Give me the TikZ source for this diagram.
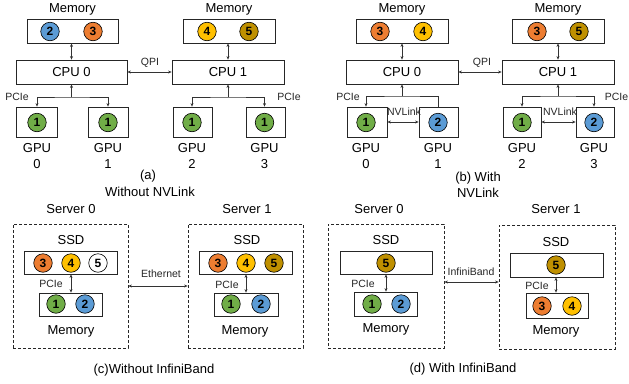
\documentclass[tikz,border=0pt]{standalone}
\usepackage{fontspec}
\setmainfont{Liberation Sans}
\usetikzlibrary{arrows.meta}
\definecolor{cblue}{HTML}{5B9BD5}
\definecolor{corange}{HTML}{ED7D31}
\definecolor{cyellow}{HTML}{FFC000}
\definecolor{cgold}{HTML}{BF9000}
\definecolor{cgreen}{HTML}{70AD47}
\begin{document}
\begin{tikzpicture}[x=1pt,y=-1pt,
 box/.style={draw=black!85, line width=0.8pt, inner sep=0pt, minimum height=24pt},
 dbox/.style={draw=black!85, line width=0.8pt, dash pattern=on 3pt off 2pt, inner sep=0pt, minimum height=124pt, minimum width=116pt},
 ball/.style={circle, draw=black, line width=0.6pt, minimum size=18.5pt, inner sep=0pt, font=\fontsize{12}{12}\selectfont\bfseries},
 lbl/.style={font=\fontsize{13}{16}\selectfont, inner sep=0pt, align=center},
 slbl/.style={font=\fontsize{10.5}{12}\selectfont, inner sep=0pt, text=black!85},
 arr/.style={line width=0.55pt, draw=black!80, >={Stealth[length=3.5pt,width=3pt]}}
]
\fill[white] (0,0) rectangle (629,383);
\useasboundingbox (0,0) rectangle (629,383);

% ================= (a) =================
\node[lbl] (mla0) at (72.5,9) {Memory};
\node[lbl] (mla1) at (229,9) {Memory};
\node[box, minimum width=91pt] (mem0a) at (72.5,31) {};
\node[box, minimum width=92pt] (mem1a) at (229,31) {};
\node[ball, fill=cblue] (a2) at (50,31.5) {2};
\node[ball, fill=corange] (a3) at (93,31.5) {3};
\node[ball, fill=cyellow] (a4) at (207,31.5) {4};
\node[ball, fill=cgold] (a5) at (249,31.5) {5};
\node[box, lbl, minimum width=111pt, minimum height=24pt] (cpu0a) at (71.5,72) {CPU 0};
\node[box, lbl, minimum width=112pt, minimum height=24pt] (cpu1a) at (228,72) {CPU 1};
\node[box, minimum width=41pt, minimum height=30pt] (gpu0a) at (36.5,122) {};
\node[box, minimum width=40pt, minimum height=30pt] (gpu1a) at (108,122) {};
\node[box, minimum width=39pt, minimum height=30pt] (gpu2a) at (192.5,122) {};
\node[box, minimum width=39pt, minimum height=30pt] (gpu3a) at (265.5,122) {};
\node[ball, fill=cgreen] (a1a) at (37,122.5) {1};
\node[ball, fill=cgreen] (a1b) at (108,122.5) {1};
\node[ball, fill=cgreen] (a1c) at (192,122.5) {1};
\node[ball, fill=cgreen] (a1d) at (264.5,122.5) {1};
\node[lbl] (ga0) at (37,156) {GPU\\0};
\node[lbl] (ga1) at (108,156) {GPU\\1};
\node[lbl] (ga2) at (192,156) {GPU\\2};
\node[lbl] (ga3) at (264.5,156) {GPU\\3};
\draw[arr,<->] (cpu0a.north) -- (cpu0a.north |- mem0a.south);
\draw[arr,<->] (cpu1a.north) -- (cpu1a.north |- mem1a.south);
\draw[arr,<->] (cpu0a.east) -- (cpu1a.west);
\node[slbl] (qpia) at (150,63) {QPI};
\coordinate (bus0a) at (71.5,97);
\coordinate (bus1a) at (228,97);
\draw[arr,->] (bus0a) -- (cpu0a.south);
\draw[arr,->] (bus1a) -- (cpu1a.south);
\draw[arr,<->] (a1a |- gpu0a.north) |- (bus0a) -| (a1b |- gpu1a.north);
\draw[arr,<->] (a1c |- gpu2a.north) |- (bus1a) -| (a1d |- gpu3a.north);
\node[slbl] (pa0) at (17,97) {PCIe};
\node[slbl] (pa1) at (289,97) {PCIe};
\node[lbl] (capa1) at (148,176) {(a)};
\node[lbl] (capa2) at (150,192) {Without NVLink};

% ================= (b) =================
\node[lbl] (mlb0) at (402,9) {Memory};
\node[lbl] (mlb1) at (558,9) {Memory};
\node[box, minimum width=92pt] (mem0b) at (402,31) {};
\node[box, minimum width=92pt] (mem1b) at (558,31) {};
\node[ball, fill=corange] (b3) at (380,31.5) {3};
\node[ball, fill=cyellow] (b4) at (423,31.5) {4};
\node[ball, fill=corange] (b3b) at (537,31.5) {3};
\node[ball, fill=cgold] (b5) at (579,31.5) {5};
\node[box, lbl, minimum width=112pt, minimum height=24pt] (cpu0b) at (402,72) {CPU 0};
\node[box, lbl, minimum width=112pt, minimum height=24pt] (cpu1b) at (558,72) {CPU 1};
\node[box, minimum width=40pt, minimum height=30pt] (gpu0b) at (367,122) {};
\node[box, minimum width=39pt, minimum height=30pt] (gpu1b) at (438.5,122) {};
\node[box, minimum width=38pt, minimum height=30pt] (gpu2b) at (522,122) {};
\node[box, minimum width=38pt, minimum height=30pt] (gpu3b) at (595,122) {};
\node[ball, fill=cgreen] (b1a) at (366,122.5) {1};
\node[ball, fill=cblue] (b2a) at (438,122.5) {2};
\node[ball, fill=cgreen] (b1b) at (522,122.5) {1};
\node[ball, fill=cblue] (b2b) at (594,122.5) {2};
\node[lbl] (gb0) at (366,156) {GPU\\0};
\node[lbl] (gb1) at (438,156) {GPU\\1};
\node[lbl] (gb2) at (522,156) {GPU\\2};
\node[lbl] (gb3) at (594,156) {GPU\\3};
\draw[arr,<->] (cpu0b.north) -- (cpu0b.north |- mem0b.south);
\draw[arr,<->] (cpu1b.north) -- (cpu1b.north |- mem1b.south);
\draw[arr,<->] (cpu0b.east) -- (cpu1b.west);
\node[slbl] (qpib) at (482,63) {QPI};
\coordinate (bus0b) at (402,96);
\coordinate (bus1b) at (558,96);
\draw[arr,->] (bus0b) -- (cpu0b.south);
\draw[arr,->] (bus1b) -- (cpu1b.south);
\draw[arr,<-] (b1a |- gpu0b.north) |- (bus0b) -| (b2a |- gpu1b.north);
\draw[arr,<->] (b1b |- gpu2b.north) |- (bus1b) -| (b2b |- gpu3b.north);
\draw[arr,<->] (gpu0b.east) -- (gpu1b.west);
\draw[arr,<->] (gpu2b.east) -- (gpu3b.west);
\node[slbl] (nvb0) at (404,112) {NVLink};
\node[slbl] (nvb1) at (560,112) {NVLink};
\node[slbl] (pb0) at (348,97) {PCIe};
\node[slbl] (pb1) at (616.5,97) {PCIe};
\node[lbl] (capb1) at (478,178) {(b) With};
\node[lbl] (capb2) at (478,193) {NVLink};

% ================= (c) =================
\node[lbl] (sc0) at (71,209) {Server 0};
\node[lbl] (sc1) at (247,209) {Server 1};
\node[dbox, minimum width=115pt] (srv0c) at (70.5,286) {};
\node[dbox, minimum width=115pt] (srv1c) at (245.5,286) {};
\node[lbl] (ssdc0) at (71,240) {SSD};
\node[lbl] (ssdc1) at (247,240) {SSD};
\node[box, minimum width=93pt, minimum height=23pt] (ssd0c) at (70.5,262.5) {};
\node[box, minimum width=93pt, minimum height=23pt] (ssd1c) at (245.5,262.5) {};
\node[ball, fill=corange] (c3a) at (43,263) {3};
\node[ball, fill=cyellow] (c4a) at (71,263) {4};
\node[ball, fill=white] (c5a) at (98,263) {5};
\node[ball, fill=corange] (c3b) at (218,263) {3};
\node[ball, fill=cyellow] (c4b) at (246,263) {4};
\node[ball, fill=cgold] (c5b) at (274,263) {5};
\node[box, minimum width=63pt, minimum height=23pt] (mem0c) at (70.5,304.5) {};
\node[box, minimum width=64pt, minimum height=23pt] (mem1c) at (246,304.5) {};
\node[ball, fill=cgreen] (c1a) at (56,304) {1};
\node[ball, fill=cblue] (c2a) at (85,304) {2};
\node[ball, fill=cgreen] (c1b) at (231,304) {1};
\node[ball, fill=cblue] (c2b) at (261,304) {2};
\node[lbl] (mlc0) at (71,331) {Memory};
\node[lbl] (mlc1) at (245,331) {Memory};
\draw[arr,<->] (c4a |- ssd0c.south) -- (c4a |- mem0c.north);
\draw[arr,<->] (c4b |- ssd1c.south) -- (c4b |- mem1c.north);
\node[slbl] (pc0) at (51,284) {PCIe};
\node[slbl] (pc1) at (227,285) {PCIe};
\draw[arr,<->] (srv0c.east) -- (srv1c.west);
\node[slbl] (eth) at (161,274) {Ethernet};
\node[lbl] (capc) at (154,370) {(c)Without InfiniBand};

% ================= (d) =================
\node[lbl] (sd0) at (379,209) {Server 0};
\node[lbl] (sd1) at (556,209) {Server 1};
\node[dbox] (srv0d) at (386,286) {};
\node[dbox] (srv1d) at (557,287) {};
\node[lbl] (ssdd0) at (386,240) {SSD};
\node[lbl] (ssdd1) at (556,242) {SSD};
\node[box, minimum width=92pt, minimum height=23pt] (ssd0d) at (386,262.5) {};
\node[box, minimum width=93pt, minimum height=24pt] (ssd1d) at (556.5,265) {};
\node[ball, fill=cgold] (d5a) at (386,263) {5};
\node[ball, fill=cgold] (d5b) at (556,265) {5};
\node[box, minimum width=63pt, minimum height=24pt] (mem0d) at (385.5,304) {};
\node[box, minimum width=62pt, minimum height=25pt] (mem1d) at (557,305.5) {};
\node[ball, fill=cgreen] (d1) at (372,304) {1};
\node[ball, fill=cblue] (d2) at (401,304) {2};
\node[ball, fill=corange] (d3) at (542,306) {3};
\node[ball, fill=cyellow] (d4) at (572,306) {4};
\node[lbl] (mld0) at (386,329) {Memory};
\node[lbl] (mld1) at (556,331) {Memory};
\draw[arr,<->] (d5a |- ssd0d.south) -- (d5a |- mem0d.north);
\draw[arr,<->] (d5b |- ssd1d.south) -- (d5b |- mem1d.north);
\node[slbl] (pd0) at (363,284) {PCIe};
\node[slbl] (pd1) at (537,286) {PCIe};
\coordinate (ibd) at (471,282);
\draw[arr,<->] (srv0d.east |- ibd) -- (srv1d.west |- ibd);
\node[slbl] (ib) at (471,272) {InfiniBand};
\node[lbl] (capd) at (463,369) {(d) With InfiniBand};
\end{tikzpicture}
\end{document}
